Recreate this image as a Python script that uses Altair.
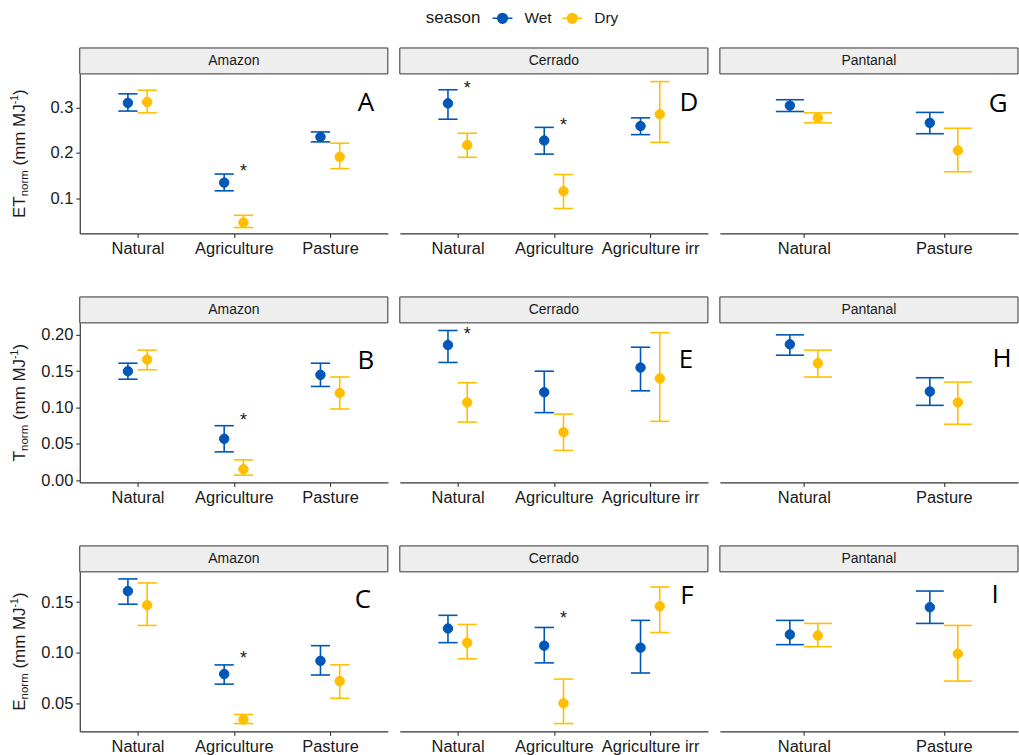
import altair as alt
import pandas as pd

# ---------------------------------------------------------------- data
seasons = ["Wet", "Dry"]
season_colors = ["#0057B7", "#FFBF00"]
regions = ["Amazon", "Cerrado", "Pantanal"]
covers = {
    "Amazon": ["Natural", "Agriculture", "Pasture"],
    "Cerrado": ["Natural", "Agriculture", "Agriculture irr"],
    "Pantanal": ["Natural", "Pasture"],
}
variables = ["ET", "T", "E"]

# Order inside every list:
# Amazon (Natural, Agriculture, Pasture), Cerrado (Natural, Agriculture,
# Agriculture irr), Pantanal (Natural, Pasture)
et_wet_mean = [0.310, 0.134, 0.235, 0.309, 0.227, 0.259, 0.304, 0.266]
et_wet_lo = [0.292, 0.116, 0.224, 0.274, 0.197, 0.240, 0.291, 0.242]
et_wet_hi = [0.330, 0.153, 0.246, 0.339, 0.256, 0.277, 0.317, 0.289]
et_dry_mean = [0.312, 0.046, 0.191, 0.217, 0.115, 0.285, 0.277, 0.205]
et_dry_lo = [0.288, 0.035, 0.165, 0.190, 0.077, 0.223, 0.266, 0.158]
et_dry_hi = [0.338, 0.062, 0.221, 0.243, 0.152, 0.357, 0.288, 0.254]

t_wet_mean = [0.150, 0.057, 0.145, 0.186, 0.121, 0.155, 0.187, 0.122]
t_wet_lo = [0.139, 0.039, 0.129, 0.162, 0.093, 0.123, 0.172, 0.103]
t_wet_hi = [0.161, 0.075, 0.161, 0.206, 0.150, 0.183, 0.200, 0.141]
t_dry_mean = [0.166, 0.015, 0.120, 0.107, 0.066, 0.140, 0.161, 0.107]
t_dry_lo = [0.152, 0.007, 0.098, 0.080, 0.041, 0.081, 0.142, 0.077]
t_dry_hi = [0.179, 0.028, 0.142, 0.134, 0.091, 0.203, 0.179, 0.135]

e_wet_mean = [0.161, 0.079, 0.092, 0.124, 0.107, 0.105, 0.118, 0.145]
e_wet_lo = [0.148, 0.069, 0.078, 0.110, 0.090, 0.080, 0.108, 0.129]
e_wet_hi = [0.173, 0.088, 0.107, 0.137, 0.125, 0.132, 0.132, 0.161]
e_dry_mean = [0.147, 0.034, 0.072, 0.110, 0.050, 0.146, 0.117, 0.099]
e_dry_lo = [0.127, 0.030, 0.055, 0.094, 0.030, 0.120, 0.106, 0.072]
e_dry_hi = [0.169, 0.039, 0.088, 0.128, 0.074, 0.165, 0.129, 0.127]

# significant wet/dry differences
star_var = ["ET", "ET", "ET", "T", "T", "E", "E"]
star_region = ["Amazon", "Cerrado", "Cerrado", "Amazon", "Cerrado", "Amazon", "Cerrado"]
star_cover = ["Agriculture", "Natural", "Agriculture", "Agriculture", "Natural",
              "Agriculture", "Agriculture"]
star_y = [0.169, 0.352, 0.271, 0.088, 0.206, 0.099, 0.138]

# panel letters and their place inside each plot area (px)
panel_letter = {
    ("ET", "Amazon"): ("A", 287, 29), ("ET", "Cerrado"): ("D", 290, 29),
    ("ET", "Pantanal"): ("G", 279, 30),
    ("T", "Amazon"): ("B", 287, 38), ("T", "Cerrado"): ("E", 287, 37),
    ("T", "Pantanal"): ("H", 283, 36),
    ("E", "Amazon"): ("C", 284, 28), ("E", "Cerrado"): ("F", 288, 24),
    ("E", "Pantanal"): ("I", 276, 23),
}

# y scales per row
y_domain = {"ET": [0.022, 0.374], "T": [-0.003, 0.2165], "E": [0.0223, 0.180]}
y_ticks = {"ET": [0.1, 0.2, 0.3], "T": [0.0, 0.05, 0.10, 0.15, 0.20],
           "E": [0.05, 0.10, 0.15]}
y_format = {"ET": ".1f", "T": ".2f", "E": ".2f"}

# ---------------------------------------------------------------- table
series = {
    ("ET", "Wet"): (et_wet_mean, et_wet_lo, et_wet_hi),
    ("ET", "Dry"): (et_dry_mean, et_dry_lo, et_dry_hi),
    ("T", "Wet"): (t_wet_mean, t_wet_lo, t_wet_hi),
    ("T", "Dry"): (t_dry_mean, t_dry_lo, t_dry_hi),
    ("E", "Wet"): (e_wet_mean, e_wet_lo, e_wet_hi),
    ("E", "Dry"): (e_dry_mean, e_dry_lo, e_dry_hi),
}
slots = [(r, c, i + 1) for r in regions for i, c in enumerate(covers[r])]
DODGE = 0.1
rows = []
for (var, season), (m, lo, hi) in series.items():
    off = -DODGE if season == "Wet" else DODGE
    for k, (reg, cov, idx) in enumerate(slots):
        pos = idx + off
        rows.append(dict(var=var, region=reg, cover=cov, season=season,
                         mean=m[k], lo=lo[k], hi=hi[k], pos=pos,
                         cap_l=pos - DODGE, cap_r=pos + DODGE))
df = pd.DataFrame(rows)

stars = pd.DataFrame(dict(var=star_var, region=star_region, cover=star_cover, y=star_y))
stars["pos"] = [covers[r].index(c) + 1 + DODGE for r, c in zip(star_region, star_cover)]

# ---------------------------------------------------------------- style
FONT = "Liberation Sans"
INK = "#1a1a1a"
AXIS = "#333333"
PLOT_H = 160
STRIP_H = 26
panel_width = {"Amazon": 309, "Cerrado": 309, "Pantanal": 299}
# the Pantanal panel is cut at its right edge
x_domain = {"Amazon": [0.4, 3.6], "Cerrado": [0.4, 3.6], "Pantanal": [0.4, 2.53]}

legend_symbol = ("M-1.25,0H1.25M0.6,0A0.6,0.6,0,1,1,-0.6,0"
                 "A0.6,0.6,0,1,1,0.6,0Z")
season_legend = alt.Legend(
    title="season", orient="none", legendX=347, legendY=-65,
    direction="horizontal", titleOrient="left", titleFontSize=17,
    titleFontWeight="normal", titleColor=INK, titlePadding=13,
    labelFontSize=15.5, labelColor=INK, labelOffset=13, columnPadding=6,
    symbolType=legend_symbol, symbolSize=256, symbolStrokeWidth=1.6,
)
season_scale = alt.Scale(domain=seasons, range=season_colors)


def fill_enc():
    return alt.Fill("season:N", scale=season_scale, legend=season_legend)


def stroke_enc():
    return alt.Stroke("season:N", scale=season_scale, legend=season_legend)


def label_expr(cats):
    expr = "''"
    for i in range(len(cats), 0, -1):
        expr = f"datum.value === {i} ? '{cats[i - 1]}' : {expr}"
    return expr


def text_width(s, size):
    w = {"E": 0.667, "T": 0.611, "n": 0.556, "o": 0.556, "r": 0.333,
         "m": 0.833, " ": 0.278, "(": 0.333, ")": 0.333,
         "M": 0.833, "J": 0.5, "-": 0.333, "1": 0.556}
    return sum(w.get(ch, 0.55) for ch in s) * size


def y_title_layers(var):
    # ET_norm (mm MJ^-1), written bottom-to-top as separate runs:
    # (text, font size, baseline offset, gap before the run)
    parts = [(var, 17, -55, 0), ("norm", 11.5, -51.5, 0),
             ("(mm MJ", 17, -55, 4.7), ("-1", 10.5, -62, 0), (")", 17, -55, 0)]
    total = sum(text_width(s, fs) + gap for s, fs, _, gap in parts)
    y = PLOT_H / 2 + total / 2
    out = []
    for s, fs, x, gap in parts:
        y -= gap
        out.append(
            alt.Chart(pd.DataFrame({"t": [s]}))
            .mark_text(angle=270, align="left", baseline="alphabetic",
                       fontSize=fs, font=FONT, color=INK)
            .encode(text="t:N", x=alt.value(x), y=alt.value(y))
        )
        y -= text_width(s, fs)
    return out


def panel(var, region):
    cats = covers[region]
    width = panel_width[region]
    sub = df[(df["var"] == var) & (df["region"] == region)]
    x_axis = alt.Axis(values=list(range(1, len(cats) + 1)),
                      labelExpr=label_expr(cats), title=None, grid=False,
                      domainColor=AXIS, domainWidth=1.2, tickColor=AXIS,
                      tickSize=4, tickWidth=1.1, labelFontSize=16.5,
                      labelColor=INK, labelPadding=3, labelOverlap=False,
                      labelFlush=False)
    if region == "Amazon":
        y_axis = alt.Axis(values=y_ticks[var], format=y_format[var], title=None,
                          grid=False, domainColor=AXIS, domainWidth=1.2,
                          tickColor=AXIS, tickSize=4, tickWidth=1.1,
                          labelFontSize=16.5, labelColor=INK, labelPadding=3,
                          labelFlush=False, labelOverlap=False)
    else:
        y_axis = None
    xs = alt.Scale(domain=x_domain[region], nice=False, zero=False)
    ys = alt.Scale(domain=y_domain[var], nice=False, zero=False)

    def X(field):
        return alt.X(f"{field}:Q", scale=xs, axis=x_axis)

    def Y(field):
        return alt.Y(f"{field}:Q", scale=ys, axis=y_axis)

    base = alt.Chart(sub)
    whisker = base.mark_rule(strokeWidth=1.6).encode(
        x=X("pos"), y=Y("lo"), y2="hi:Q", stroke=stroke_enc())
    cap_lo = base.mark_rule(strokeWidth=1.6).encode(
        x=X("cap_l"), x2="cap_r:Q", y=Y("lo"), stroke=stroke_enc())
    cap_hi = base.mark_rule(strokeWidth=1.6).encode(
        x=X("cap_l"), x2="cap_r:Q", y=Y("hi"), stroke=stroke_enc())
    points = base.mark_point(filled=True, size=90, strokeWidth=1,
                             opacity=1).encode(
        x=X("pos"), y=Y("mean"), fill=fill_enc(), stroke=stroke_enc())
    layers = [whisker, cap_lo, cap_hi, points]

    st = stars[(stars["var"] == var) & (stars["region"] == region)]
    if len(st):
        layers.append(
            alt.Chart(st).mark_text(text="*", fontSize=18, font=FONT,
                                    color=INK, baseline="alphabetic", dy=10)
            .encode(x=X("pos"), y=Y("y"))
        )

    letter, lx, ly = panel_letter[(var, region)]
    layers.append(
        alt.Chart(pd.DataFrame({"t": [letter]}))
        .mark_text(fontSize=26, font="Open Sans", color="#000000",
                   align="center", baseline="middle")
        .encode(text="t:N", x=alt.value(lx), y=alt.value(ly))
    )

    # grey strip with the region name above the plot area
    strip_df = pd.DataFrame({"region": [region]})
    layers.append(
        alt.Chart(strip_df).mark_rect(fill="#EEEEEE", stroke=AXIS,
                                      strokeWidth=1)
        .encode(x=alt.value(0), x2=alt.value(width),
                y=alt.value(-STRIP_H), y2=alt.value(0))
    )
    layers.append(
        alt.Chart(strip_df).mark_text(fontSize=14, font=FONT, color=INK,
                                      align="center", baseline="middle")
        .encode(text="region:N", x=alt.value(width / 2),
                y=alt.value(-STRIP_H / 2))
    )
    if region == "Amazon":
        layers.extend(y_title_layers(var))

    return alt.layer(*layers).properties(width=width, height=PLOT_H)


grid_rows = [alt.hconcat(*[panel(v, r) for r in regions], spacing=10)
             for v in variables]

chart = (
    alt.vconcat(*grid_rows, spacing=38.7)
    .properties(padding={"left": 10, "top": 8, "right": 0, "bottom": 0})
    .configure(font=FONT)
    .configure_view(stroke=None)
)

chart.save("out.html", embed_options={"renderer": "svg", "actions": False})
